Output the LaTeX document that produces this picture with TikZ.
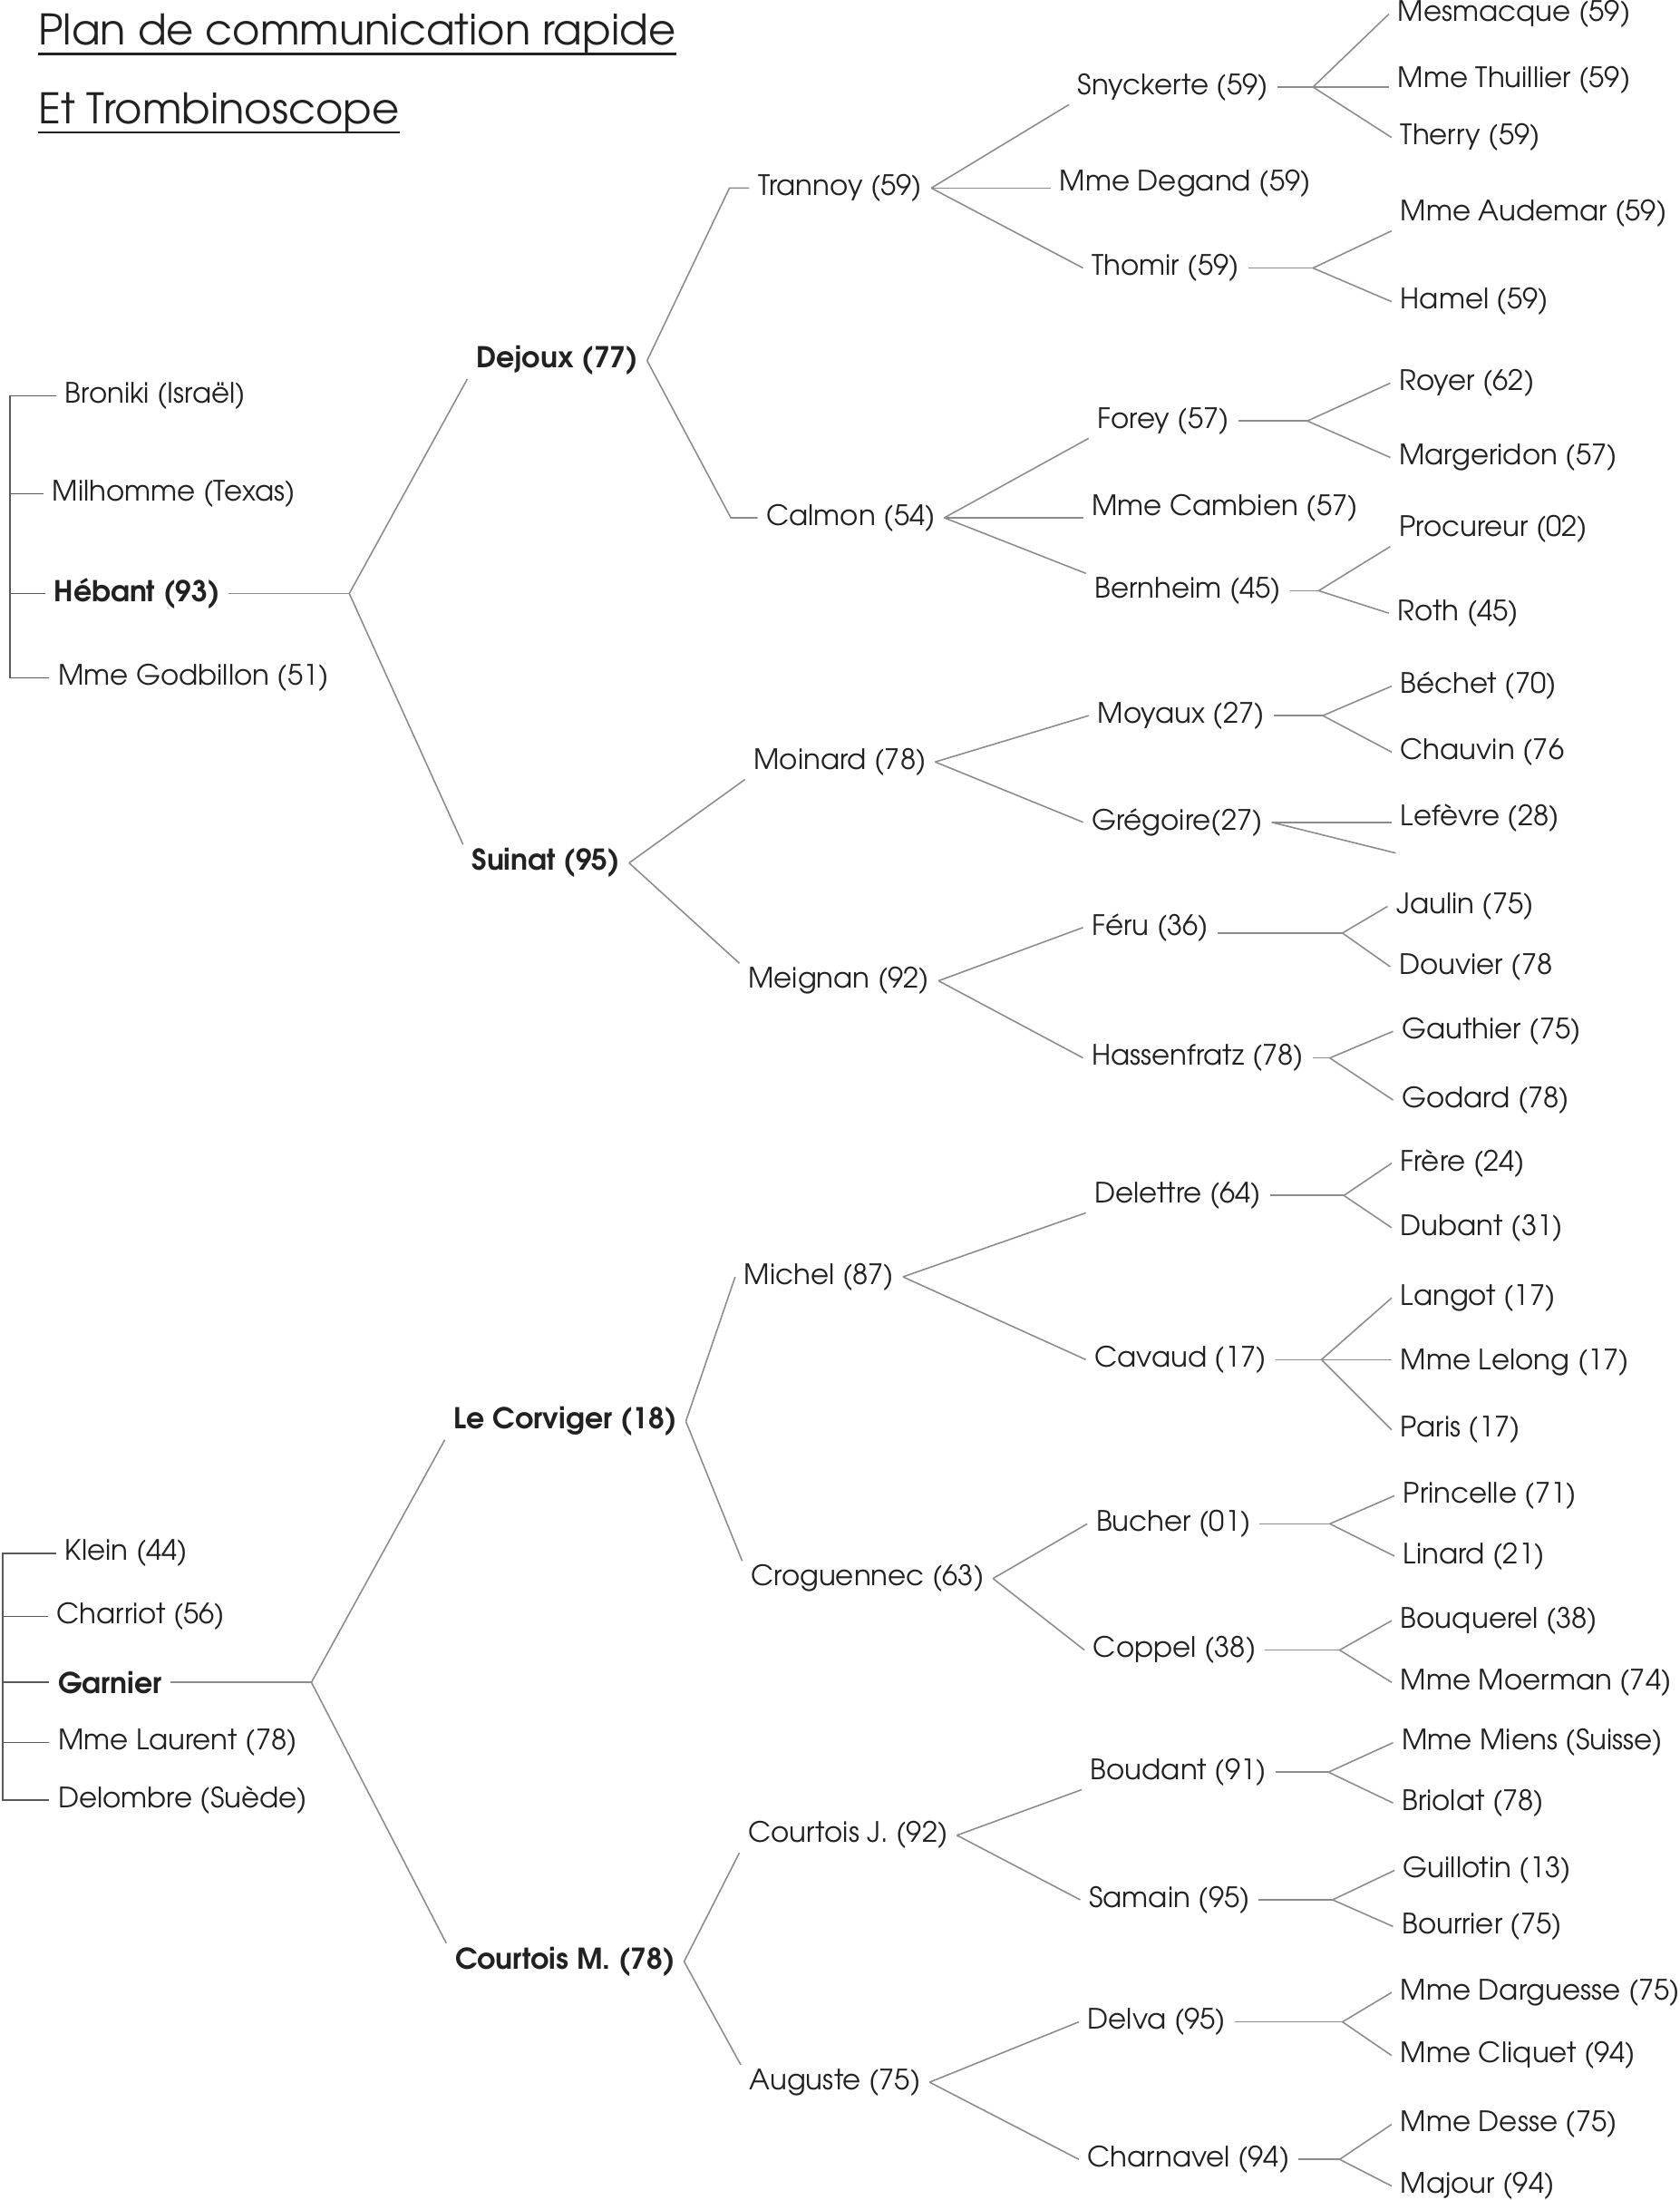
\documentclass[tikz,border=0pt]{standalone}
\usepackage{fontspec}
\setmainfont{texgyreadventor}[Extension=.otf,UprightFont=*-regular,BoldFont=*-bold,ItalicFont=*-italic,BoldItalicFont=*-bolditalic]
\usepackage{tikz}
\definecolor{myink}{rgb}{0.13,0.13,0.13}
\definecolor{mygray}{rgb}{0.55,0.55,0.55}
\definecolor{mydark}{rgb}{0.35,0.35,0.35}
\tikzset{
  who/.style={anchor=west,inner xsep=2.6pt,inner ysep=1pt,xshift=-2.6pt,yshift=-0.9pt,
              text=myink,font=\fontsize{8.8}{10}\selectfont},
  boss/.style={who,font=\fontsize{9}{10}\selectfont\bfseries},
  head/.style={anchor=west,inner sep=0pt,yshift=-0.9pt,text=myink,font=\fontsize{13.2}{15}\selectfont},
  link/.style={draw=mygray,line width=0.45pt},
  brack/.style={draw=mydark,line width=0.45pt}
}

\begin{document}
\begin{tikzpicture}[x=0.015472cm,y=-0.015472cm]
  \useasboundingbox (0,0) rectangle (1197,1568);
  % title
  \node[head] (t1) at (27,22) {Plan de communication rapide};
  \node[head] (t2) at (27,78) {Et Trombinoscope};
  \draw[myink,line width=0.6pt] (t1.south west) -- (t1.south east);
  \draw[myink,line width=0.6pt] (t2.south west) -- (t2.south east);

  % first team: Hebant and his helpers
  \node[who]  (bro) at (46,280) {Broniki (Israël)};
  \node[who]  (mil) at (37,350) {Milhomme (Texas)};
  \node[boss] (heb) at (38,421) {Hébant (93)};
  \node[who]  (god) at (41,481) {Mme Godbillon (51)};
  \coordinate (hb) at (7,0);
  \draw[brack] (bro.west) -| (hb |- god.west) -- (god.west);
  \draw[brack] (mil.west) -- (hb |- mil.west);
  \draw[brack] (heb.west) -- (hb |- heb.west);
  \coordinate (jheb) at (heb.east -| 249,0);
  \draw[link] (heb.east) -- (jheb);

  \node[boss] (dej) at (339,255) {Dejoux (77)};
  \node[boss] (sui) at (336,613) {Suinat (95)};
  \draw[link] (dej.south west) -- (jheb) -- (sui.north west);

  % Dejoux branch
  \node[who] (tra) at (540,132) {Trannoy (59)};
  \node[who] (cal) at (546,367) {Calmon (54)};
  \coordinate (btra) at (tra.west -| 520,0);
  \coordinate (bcal) at (cal.west -| 521,0);
  \draw[link] (dej.east) -- (btra) -- (tra.west);
  \draw[link] (dej.east) -- (bcal) -- (cal.west);

  \node[who] (sny) at (768,60)  {Snyckerte (59)};
  \node[who] (deg) at (755,129) {Mme Degand (59)};
  \node[who] (tho) at (778,189) {Thomir (59)};
  \draw[link] (tra.east) -- (sny.south west);
  \draw[link] (tra.east) -- (tra.east -| deg.west);
  \draw[link] (tra.east) -- (tho.west);

  \node[who] (mes) at (996,8)   {Mesmacque (59)};
  \node[who] (thu) at (996,55)  {Mme Thuillier (59)};
  \node[who] (the) at (998,96)  {Therry (59)};
  \coordinate (jsny) at (sny.east -| 936,0);
  \draw[link] (sny.east) -- (jsny);
  \draw[link] (jsny) -- (mes.west);
  \draw[link] (jsny) -- (jsny -| thu.west);
  \draw[link] (jsny) -- (the.west);

  \node[who] (aud) at (998,150) {Mme Audemar (59)};
  \node[who] (ham) at (998,213) {Hamel (59)};
  \coordinate (jtho) at (tho.east -| 936,0);
  \draw[link] (tho.east) -- (jtho);
  \draw[link] (jtho) -- (aud.south west);
  \draw[link] (jtho) -- (ham.west);

  \node[who] (for) at (782,298) {Forey (57)};
  \node[who] (cam) at (778,360) {Mme Cambien (57)};
  \node[who] (ber) at (780,419) {Bernheim (45)};
  \draw[link] (cal.east) -- (for.south west);
  \draw[link] (cal.east) -- (cal.east -| cam.west);
  \draw[link] (cal.east) -- (ber.north west);

  \node[who] (roy) at (997,271) {Royer (62)};
  \node[who] (mar) at (997,324) {Margeridon (57)};
  \coordinate (jfor) at (for.east -| 932,0);
  \draw[link] (for.east) -- (jfor);
  \foreach \c in {roy,mar} \draw[link] (jfor) -- (\c.west);

  \node[who] (pro) at (997,375) {Procureur (02)};
  \node[who] (rot) at (996,435) {Roth (45)};
  \coordinate (jber) at (ber.east -| 940,0);
  \draw[link] (ber.east) -- (jber);
  \draw[link] (jber) -- (pro.south west);
  \draw[link] (jber) -- (rot.west);

  % Suinat branch
  \node[who] (moi) at (537,541) {Moinard (78)};
  \node[who] (mei) at (533,697) {Meignan (92)};
  \draw[link] (sui.east) -- (moi.south west);
  \draw[link] (sui.east) -- (mei.north west);

  \node[who] (moy) at (782,508) {Moyaux (27)};
  \node[who] (gre) at (778,584) {Grégoire(27)};
  \draw[link] (moi.east) -- (moy.west);
  \draw[link] (moi.east) -- (gre.west);

  \node[who] (bec) at (998,487) {Béchet (70)};
  \node[who] (cha) at (998,534) {Chauvin (76};
  \coordinate (jmoy) at (moy.east -| 943,0);
  \draw[link] (moy.east) -- (jmoy);
  \foreach \c in {bec,cha} \draw[link] (jmoy) -- (\c.west);

  \node[who] (lef) at (998,581) {Lefèvre (28)};
  \coordinate (loose) at (995,608);
  \draw[link] (gre.east) -- (gre.east -| lef.west);
  \draw[link] (gre.east) -- (loose);

  \node[who] (fer) at (778,659) {Féru (36)};
  \node[who] (has) at (778,752) {Hassenfratz (78)};
  \draw[link] (mei.east) -- (fer.west);
  \draw[link] (mei.east) -- (has.west);

  \node[who] (jau) at (995,644) {Jaulin (75)};
  \node[who] (dou) at (997,687) {Douvier (78};
  \coordinate (jfer) at (957,665);
  \draw[link] (fer.east |- jfer) -- (jfer);
  \foreach \c in {jau,dou} \draw[link] (jfer) -- (\c.west);

  \node[who] (gau) at (999,733) {Gauthier (75)};
  \node[who] (goa) at (999,782) {Godard (78)};
  \coordinate (jhas) at (has.east -| 948,0);
  \draw[link] (has.east) -- (jhas);
  \foreach \c in {gau,goa} \draw[link] (jhas) -- (\c.west);

  % second team: Garnier and his helpers
  \node[who]  (kle) at (46,1105) {Klein (44)};
  \node[who]  (chr) at (40,1150) {Charriot (56)};
  \node[boss] (gar) at (41,1197) {Garnier};
  \node[who]  (lau) at (41,1240) {Mme Laurent (78)};
  \node[who]  (dlb) at (41,1281) {Delombre (Suède)};
  \coordinate (hg) at (2,0);
  \draw[brack] (kle.west) -| (hg |- dlb.west) -- (dlb.west);
  \foreach \c in {chr,gar,lau} \draw[brack] (\c.west) -- (hg |- \c.west);
  \coordinate (jgar) at (gar.east -| 222,0);
  \draw[link] (gar.east) -- (jgar);

  \node[boss] (cor) at (323,1011) {Le Corviger (18)};
  \node[boss] (com) at (324,1396) {Courtois M. (78)};
  \draw[link] (cor.south west) -- (jgar) -- (com.north west);

  % Le Corviger branch
  \node[who] (mic) at (530,908)  {Michel (87)};
  \node[who] (cro) at (535,1123) {Croguennec (63)};
  \draw[link] (cor.east) -- (mic.west);
  \draw[link] (cor.east) -- (cro.north west);

  \node[who] (det) at (780,850) {Delettre (64)};
  \node[who] (cav) at (780,967) {Cavaud (17)};
  \draw[link] (mic.east) -- (det.south west);
  \draw[link] (mic.east) -- (cav.west);

  \node[who] (fre) at (998,827) {Frère (24)};
  \node[who] (dub) at (998,873) {Dubant (31)};
  \coordinate (jdet) at (det.east -| 958,0);
  \draw[link] (det.east) -- (jdet);
  \foreach \c in {fre,dub} \draw[link] (jdet) -- (\c.west);

  \node[who] (lan) at (998,923)  {Langot (17)};
  \node[who] (lel) at (998,969)  {Mme Lelong (17)};
  \node[who] (par) at (998,1017) {Paris (17)};
  \coordinate (jcav) at (cav.east -| 942,0);
  \draw[link] (cav.east) -- (jcav);
  \draw[link] (jcav) -- (lan.west);
  \draw[link] (jcav) -- (jcav -| lel.west);
  \draw[link] (jcav) -- (par.west);

  \node[who] (buc) at (781,1084) {Bucher (01)};
  \node[who] (cop) at (779,1174) {Coppel (38)};
  \draw[link] (cro.east) -- (buc.west);
  \draw[link] (cro.east) -- (cop.west);

  \node[who] (pri) at (1000,1064) {Princelle (71)};
  \node[who] (lin) at (1000,1107) {Linard (21)};
  \coordinate (jbuc) at (buc.east -| 948,0);
  \draw[link] (buc.east) -- (jbuc);
  \foreach \c in {pri,lin} \draw[link] (jbuc) -- (\c.west);

  \node[who] (bou) at (998,1153) {Bouquerel (38)};
  \node[who] (moe) at (998,1197) {Mme Moerman (74)};
  \coordinate (jcop) at (cop.east -| 955,0);
  \draw[link] (cop.east) -- (jcop);
  \foreach \c in {bou,moe} \draw[link] (jcop) -- (\c.west);

  % Courtois M. branch
  \node[who] (coj) at (533,1306) {Courtois J. (92)};
  \node[who] (aug) at (534,1482) {Auguste (75)};
  \draw[link] (com.east) -- (coj.south west);
  \draw[link] (com.east) -- (aug.north west);

  \node[who] (bod) at (777,1261) {Boudant (91)};
  \node[who] (sam) at (776,1352) {Samain (95)};
  \draw[link] (coj.east) -- (bod.south west);
  \draw[link] (coj.east) -- (sam.west);

  \node[who] (mie) at (999,1240) {Mme Miens (Suisse)};
  \node[who] (bri) at (999,1283) {Briolat (78)};
  \coordinate (jbod) at (bod.east -| 947,0);
  \draw[link] (bod.east) -- (jbod);
  \foreach \c in {mie,bri} \draw[link] (jbod) -- (\c.west);

  \node[who] (gui) at (1000,1331) {Guillotin (13)};
  \node[who] (bor) at (999,1371)  {Bourrier (75)};
  \coordinate (jsam) at (sam.east -| 950,0);
  \draw[link] (sam.east) -- (jsam);
  \foreach \c in {gui,bor} \draw[link] (jsam) -- (\c.west);

  \node[who] (dlv) at (775,1439) {Delva (95)};
  \node[who] (chv) at (775,1537) {Charnavel (94)};
  \draw[link] (aug.east) -- (dlv.west);
  \draw[link] (aug.east) -- (chv.west);

  \node[who] (dar) at (998,1418) {Mme Darguesse (75)};
  \node[who] (cli) at (998,1463) {Mme Cliquet (94)};
  \coordinate (jdlv) at (dlv.east -| 957,0);
  \draw[link] (dlv.east) -- (jdlv);
  \foreach \c in {dar,cli} \draw[link] (jdlv) -- (\c.west);

  \node[who] (des) at (998,1512) {Mme Desse (75)};
  \node[who] (maj) at (998,1556) {Majour (94)};
  \coordinate (jchv) at (chv.east -| 955,0);
  \draw[link] (chv.east) -- (jchv);
  \foreach \c in {des,maj} \draw[link] (jchv) -- (\c.west);
\end{tikzpicture}
\end{document}
